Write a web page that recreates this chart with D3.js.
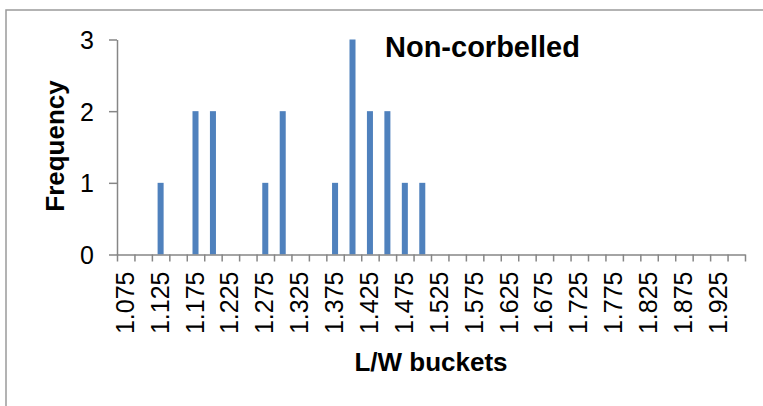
<!DOCTYPE html>
<html>
<head>
<meta charset="utf-8">
<script src="https://cdn.jsdelivr.net/npm/d3@7"></script>
<style>
  body { margin: 0; background: #fff; }
  svg { display: block; font-family: "Liberation Sans", Arial, sans-serif; }
</style>
</head>
<body>
<svg id="chart"></svg>
<script>
// L/W buckets (step 0.025) and their counts
const buckets = ["1.075", "1.1", "1.125", "1.15", "1.175", "1.2", "1.225", "1.25", "1.275", "1.3",
                 "1.325", "1.35", "1.375", "1.4", "1.425", "1.45", "1.475", "1.5", "1.525", "1.55",
                 "1.575", "1.6", "1.625", "1.65", "1.675", "1.7", "1.725", "1.75", "1.775", "1.8",
                 "1.825", "1.85", "1.875", "1.9", "1.925", "1.95"];
const frequency = [0, 0, 1, 0, 2, 2, 0, 0, 1, 2,
                   0, 0, 1, 3, 2, 2, 1, 1, 0, 0,
                   0, 0, 0, 0, 0, 0, 0, 0, 0, 0,
                   0, 0, 0, 0, 0, 0];
// only every second bucket gets a label
const labelledBuckets = buckets.filter((d, i) => i % 2 === 0);
const yTicks = [0, 1, 2, 3];

const width = 763, height = 406;
const plotLeft = 117, plotRight = 745, plotTop = 39.5, plotBottom = 254.5;

const svg = d3.select("#chart").attr("width", width).attr("height", height);

// chart area border (only top and left are inside the picture)
svg.append("rect")
   .attr("x", 6).attr("y", 10)
   .attr("width", width + 20).attr("height", height + 20)
   .attr("fill", "none").attr("stroke", "#9a9a9a").attr("stroke-width", 1.5);

const x = d3.scaleBand().domain(buckets).range([plotLeft, plotRight])
            .paddingInner(0.655).paddingOuter(0.3275);
const xEdge = d3.scaleLinear().domain([0, buckets.length]).range([plotLeft, plotRight]);
const y = d3.scaleLinear().domain([0, 3]).range([plotBottom, plotTop]);

// bars
svg.selectAll(".bar")
   .data(buckets)
   .enter()
   .append("rect")
   .attr("class", "bar")
   .attr("x", d => x(d))
   .attr("y", (d, i) => y(frequency[i]))
   .attr("width", x.bandwidth())
   .attr("height", (d, i) => y(0) - y(frequency[i]))
   .attr("fill", "#4f81bd");

// y axis
const yAxis = svg.append("g")
   .attr("transform", `translate(${plotLeft},0)`)
   .call(d3.axisLeft(y).tickValues(yTicks).tickFormat(d3.format("d")).tickSize(8).tickSizeOuter(0));
yAxis.select(".domain").attr("stroke", "#868686").attr("stroke-width", 1.5);
yAxis.selectAll(".tick line").attr("stroke", "#868686").attr("stroke-width", 1.5);
yAxis.selectAll(".tick text")
     .attr("x", -23).attr("dy", "0.36em")
     .attr("font-size", 25).attr("fill", "#000")
     .attr("font-family", "Liberation Sans, Arial, sans-serif");

// x axis tick marks at bucket edges
const xTickAxis = svg.append("g")
   .attr("transform", `translate(0,${plotBottom})`)
   .call(d3.axisBottom(xEdge).tickValues(d3.range(buckets.length + 1)).tickFormat("").tickSize(7).tickSizeOuter(0));
xTickAxis.select(".domain").attr("stroke", "#868686").attr("stroke-width", 1.5);
xTickAxis.selectAll(".tick line").attr("stroke", "#868686").attr("stroke-width", 1.5);

// x axis labels, rotated
const xLabelAxis = svg.append("g")
   .attr("transform", `translate(0,${plotBottom})`)
   .call(d3.axisBottom(x).tickValues(labelledBuckets).tickSize(0));
xLabelAxis.select(".domain").remove();
xLabelAxis.selectAll(".tick text")
     .attr("transform", "rotate(-90)")
     .attr("x", -17).attr("y", -1).attr("dy", "0.36em")
     .attr("text-anchor", "end")
     .attr("font-size", 25).attr("fill", "#000")
     .attr("font-family", "Liberation Sans, Arial, sans-serif");

// titles
svg.append("text")
   .attr("x", 385).attr("y", 57)
   .attr("font-size", 29).attr("font-weight", "bold")
   .text("Non-corbelled");

svg.append("text")
   .attr("x", 431).attr("y", 371)
   .attr("text-anchor", "middle")
   .attr("font-size", 26).attr("font-weight", "bold")
   .text("L/W buckets");

svg.append("text")
   .attr("transform", "translate(64,146) rotate(-90)")
   .attr("text-anchor", "middle")
   .attr("font-size", 26).attr("font-weight", "bold")
   .text("Frequency");
</script>
</body>
</html>
